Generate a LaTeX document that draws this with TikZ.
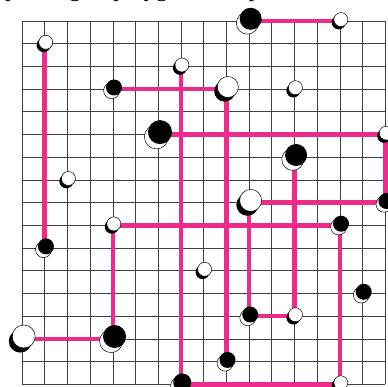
\documentclass[tikz,border=0pt]{standalone}
\usepackage{fontspec}
\setmainfont{Liberation Serif}
\definecolor{hotpink}{RGB}{238,42,138}
\begin{document}
\begin{tikzpicture}[x=1pt,y=-1pt,
  gridline/.style={black!75, line width=0.6pt},
  route/.style={hotpink, line width=4.6pt},
  rim/.style={draw=black, line width=0.5pt}]
\useasboundingbox (0,0) rectangle (387,387);
% grid
\foreach \i in {0,...,16} {
  \draw[gridline] ({22+22.7*\i},21) -- ({22+22.7*\i},384.2);
  \draw[gridline] (22,{21+22.7*\i}) -- (385.2,{21+22.7*\i});
}
% cut-off caption (only its descenders show)
\node[anchor=base west, inner sep=0pt, font=\fontsize{24}{26}\selectfont] (cap) at (5,-3) {packing of polygons, the p};
% token positions
\foreach \n/\c/\r in {t1/1/1, t2/10/0, t3/14/0, t4/7/2, t5/4/3, t6/9/3, t7/12/3,
  t8/6/5, t9/16/5, t10/12/6, t11/2/7, t12/10/8, t13/16/8, t14/4/9, t15/14/9,
  t16/1/10, t17/8/11, t18/15/12, t19/10/13, t20/12/13, t21/0/14, t22/4/14,
  t23/9/15, t24/7/16, t25/14/16}
  \coordinate (\n) at ({22+22.7*\c},{21+22.7*\r});
% routes
\draw[route] (t1) -- (t16);
\draw[route] (t2) -- (t3);
\draw[route] (t5) -- (t6) -- (t23);
\draw[route] (t8) -- (t9) -- (t13) -- (t12) -- (t19) -- (t20) -- (t10);
\draw[route] (t21) -- (t22) -- (t14) -- (t15) -- (t25) -- (t24) -- (t4);
% white tokens
\foreach \n/\s in {t1/7, t3/7, t4/7, t6/10.5, t7/7, t9/7, t11/7, t12/11,
  t14/7, t17/7, t20/7, t21/11.5, t25/7} {
  \fill[black, shift={(\n)}] ({-0.15*\s},{0.2*\s}) circle (\s);
  \filldraw[fill=white, rim, shift={(\n)}] ({0.15*\s},{-0.2*\s}) circle (\s);
}
% black tokens
\foreach \n/\s in {t2/11, t5/8, t8/12, t10/11, t13/8, t15/8, t16/8, t18/8,
  t19/8, t22/11.5, t23/8, t24/9} {
  \filldraw[fill=white, rim, shift={(\n)}] ({-0.15*\s},{0.2*\s}) circle (\s);
  \fill[black, shift={(\n)}] ({0.15*\s},{-0.2*\s}) circle (\s);
}
\end{tikzpicture}
\end{document}
